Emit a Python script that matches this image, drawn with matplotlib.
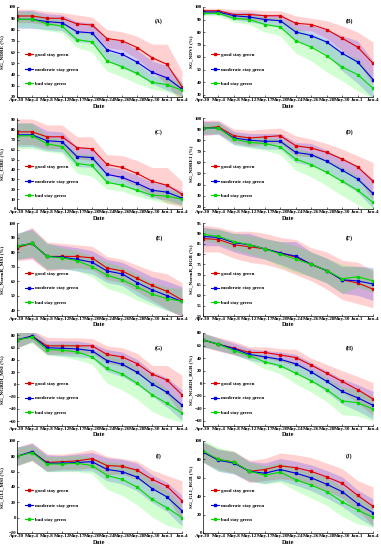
import matplotlib
matplotlib.use("Agg")
import matplotlib.pyplot as plt
import numpy as np

dates = ["Apr.30", "May.4", "May.8", "May.12", "May.17", "May.20", "May.24",
         "May.26", "May.28", "May.30", "Jun.1", "Jun.4"]
groups = ["good stay green", "moderate stay green", "bad stay green"]
panel_letters = ["(A)", "(B)", "(C)", "(D)", "(E)", "(F)", "(G)", "(H)", "(I)", "(J)"]
ylabels = ["SG_NDRE (%)", "SG_NDVI (%)", "SG_CIRE (%)", "SG_NDRE1 (%)",
           "SG_NormR_MSI (%)", "SG_NormR_RGB (%)", "SG_NGRDI_MSI (%)",
           "SG_NGRDI_RGB (%)", "SG_GLI_MSI (%)", "SG_GLI_RGB (%)"]

# mean values (good, moderate, bad) per panel
A_good = [92, 92, 90, 90, 85, 84, 72, 70, 64, 55, 49, 29]
A_mod = [89, 89, 87, 86, 78, 77, 62, 58, 51, 42, 37, 27]
A_bad = [89, 89, 85, 83, 71, 69, 52, 47, 41, 33, 31, 26]
A_good_sd = [6, 6, 6, 5, 8, 7, 8, 8, 10, 12, 18, 14]
A_mod_sd = [8, 8, 7, 7, 9, 9, 10, 12, 11, 10, 11, 6]
A_bad_sd = [7, 7, 6, 6, 7, 9, 9, 9, 9, 6, 6, 7]

B_good = [97, 97, 94, 94, 93, 93, 87, 86, 82, 75, 68, 55]
B_mod = [96, 96, 93, 92, 90, 89, 80, 77, 72, 63, 56, 42]
B_bad = [95, 95, 91, 90, 86, 84, 73, 68, 61, 52, 46, 35]
B_good_sd = [2, 2, 4, 4, 4, 4, 6, 5, 7, 10, 12, 17]
B_mod_sd = [2, 2, 3, 4, 4, 5, 7, 8, 10, 14, 17, 15]
B_bad_sd = [2, 2, 3, 4, 6, 7, 10, 11, 13, 11, 13, 8]

C_good = [78, 78, 73, 73, 62, 61, 45, 42, 36, 28, 24, 15]
C_mod = [75, 75, 69, 68, 53, 52, 35, 32, 26, 19, 17, 11]
C_bad = [74, 74, 66, 63, 46, 44, 27, 24, 19, 14, 13, 10]
C_good_sd = [13, 13, 12, 12, 11, 12, 10, 12, 13, 14, 18, 13]
C_mod_sd = [12, 12, 10, 10, 10, 10, 8, 8, 8, 8, 8, 7]
C_bad_sd = [13, 13, 8, 7, 10, 11, 7, 6, 6, 5, 7, 6]

D_good = [91, 92, 84, 82, 83, 84, 75, 73, 69, 63, 56, 43]
D_mod = [91, 91, 82, 80, 79, 79, 69, 67, 61, 53, 45, 32]
D_bad = [91, 91, 81, 78, 77, 74, 63, 58, 51, 43, 35, 24]
D_good_sd = [7, 6, 6, 7, 7, 7, 9, 8, 8, 9, 10, 17]
D_mod_sd = [6, 6, 6, 6, 7, 7, 9, 10, 10, 11, 12, 13]
D_bad_sd = [5, 5, 5, 5, 6, 7, 10, 11, 12, 13, 13, 9]

E_good = [83, 86, 77, 77, 77, 76, 69, 67, 62, 57, 53, 47]
E_mod = [84, 86, 77, 76.5, 75, 73, 67, 65, 59, 54, 50, 46]
E_bad = [84, 86, 77, 76, 74, 70, 64, 61, 56, 51, 48, 46]
E_good_sd = [9, 11, 10, 9, 8, 8, 8, 8, 9, 10, 12, 12]
E_mod_sd = [9, 10, 9, 8, 8, 8, 8, 8, 9, 9, 10, 10]
E_bad_sd = [9, 9, 9, 7, 7, 7, 9, 9, 9, 8, 8, 9]

F_good = [87.5, 87, 84.5, 83.5, 82.5, 80.5, 78.5, 75, 72, 67.5, 66, 63]
F_mod = [88.5, 88, 85.5, 84.5, 82.5, 80.5, 79, 75, 72, 67.5, 67, 65.5]
F_bad = [89.5, 88.5, 86, 84.5, 82.5, 80, 77.5, 75, 72, 68, 69, 67]
F_good_sd = [6.5, 6, 6.5, 7.5, 7.5, 7.5, 8.5, 8, 9, 9.5, 10, 9]
F_mod_sd = [4.5, 4, 4.5, 5.5, 5, 5.5, 7, 6, 6, 6.5, 7, 8]
F_bad_sd = [3, 3.5, 4, 4.5, 5, 6, 6.5, 6, 6, 7, 5, 5.5]

G_good = [72, 79, 63, 63, 63, 63, 49, 45, 34, 17, 7, -17]
G_mod = [73, 79, 60, 59, 58, 55, 39, 33, 20, 1, -13, -34]
G_bad = [73, 77, 57, 56, 53, 45, 26, 17, 2, -17, -31, -47]
G_good_sd = [13, 9, 14, 13, 13, 12, 14, 15, 17, 14, 24, 32]
G_mod_sd = [13, 9, 11, 12, 13, 12, 18, 20, 21, 20, 24, 25]
G_bad_sd = [13, 9, 9, 11, 13, 12, 24, 26, 26, 27, 24, 15]

H_good = [69, 62, 56, 49, 49, 45, 41, 29, 16, 3, -10, -25]
H_mod = [69, 62, 55, 46, 42, 38, 31, 18, 3, -13, -23, -35]
H_bad = [69, 62, 52, 44, 34, 28, 16, 4, -10, -28, -31, -41]
H_good_sd = [11, 11, 11, 9, 9, 10, 13, 11, 14, 17, 21, 26]
H_mod_sd = [11, 10, 9, 9, 10, 12, 15, 15, 17, 20, 21, 22]
H_bad_sd = [11, 9, 6, 8, 11, 13, 17, 18, 19, 22, 21, 19]

I_good = [80, 86, 72, 73, 74, 77, 68, 67, 62, 50, 41, 22]
I_mod = [80, 86, 71, 71, 72, 73, 63, 60, 53, 38, 27, 9]
I_bad = [80, 85, 70, 70, 71, 68, 55, 50, 40, 24, 13, 0]
I_good_sd = [12, 12, 11, 10, 11, 12, 12, 10, 12, 12, 14, 26]
I_mod_sd = [12, 11, 11, 10, 11, 12, 15, 16, 18, 18, 19, 20]
I_bad_sd = [12, 10, 10, 10, 11, 11, 18, 21, 23, 23, 23, 15]

J_good = [88, 80, 77, 67, 69, 73, 71, 67, 61, 54, 41, 29]
J_mod = [88, 79, 76, 67, 65, 69, 65, 60, 53, 45, 32, 22]
J_bad = [89, 80, 77, 67, 63, 66, 58, 52, 45, 34, 25, 17]
J_good_sd = [11, 11, 12, 12, 12, 14, 14, 15, 15, 16, 16, 21]
J_mod_sd = [11, 12, 12, 11, 11, 12, 13, 14, 15, 16, 15, 15]
J_bad_sd = [12, 13, 12, 10, 10, 11, 12, 14, 15, 16, 15, 11]

panels = [
    (A_good, A_mod, A_bad, A_good_sd, A_mod_sd, A_bad_sd),
    (B_good, B_mod, B_bad, B_good_sd, B_mod_sd, B_bad_sd),
    (C_good, C_mod, C_bad, C_good_sd, C_mod_sd, C_bad_sd),
    (D_good, D_mod, D_bad, D_good_sd, D_mod_sd, D_bad_sd),
    (E_good, E_mod, E_bad, E_good_sd, E_mod_sd, E_bad_sd),
    (F_good, F_mod, F_bad, F_good_sd, F_mod_sd, F_bad_sd),
    (G_good, G_mod, G_bad, G_good_sd, G_mod_sd, G_bad_sd),
    (H_good, H_mod, H_bad, H_good_sd, H_mod_sd, H_bad_sd),
    (I_good, I_mod, I_bad, I_good_sd, I_mod_sd, I_bad_sd),
    (J_good, J_mod, J_bad, J_good_sd, J_mod_sd, J_bad_sd),
]

ylims = [(20, 100), (28, 100), (0, 92), (18, 100), (36, 100),
         (50, 95), (-68, 84), (-68, 80), (-20, 100), (0, 100)]
yticks = [np.arange(20, 101, 10), np.arange(30, 101, 10), np.arange(0, 91, 10),
          np.arange(20, 101, 10), np.arange(40, 101, 10), np.arange(50, 96, 5),
          np.arange(-60, 81, 20), np.arange(-60, 81, 20), np.arange(-20, 101, 20),
          np.arange(0, 101, 20)]

line_colors = ["#e00000", "#0000e0", "#00d800"]
fill_colors = ["#ff0000", "#0000ff", "#00ff00"]

W, H = 381, 550
fig = plt.figure(figsize=(W / 100, H / 100), dpi=100)
plt.rcParams['font.family'] = ['Liberation Serif', 'DejaVu Serif']

row_tb = [(7, 97), (118, 209), (223, 316), (333, 426), (441, 533)]
col_lr = [(17, 182), (203, 373)]
label_x = [4.5, 193.5]

x = np.arange(len(dates))
for i, p in enumerate(panels):
    r, c = divmod(i, 2)
    top, bot = row_tb[r]
    left, right = col_lr[c]
    ax = fig.add_axes([left / W, 1 - bot / H, (right - left) / W, (bot - top) / H])
    means = p[:3]
    sds = p[3:]
    for k in range(3):
        m = np.array(means[k], dtype=float)
        s = np.array(sds[k], dtype=float)
        ax.fill_between(x, m - s, m + s, color=fill_colors[k], alpha=0.18, lw=0)
    for k in range(3):
        ax.plot(x, means[k], color=line_colors[k], lw=0.8, marker='s', ms=2.0,
                mec=line_colors[k], mfc=line_colors[k], label=groups[k])
    ax.set_xlim(0, len(dates) - 1)
    ax.set_ylim(*ylims[i])
    ax.set_yticks(yticks[i])
    ax.set_xticks(x)
    ax.set_xticklabels(dates, fontsize=3.8, fontweight='bold')
    for t in ax.get_yticklabels():
        t.set_fontsize(3.5)
        t.set_fontweight('bold')
    ax.tick_params(direction='in', length=1.5, width=0.4, pad=0.8)
    for sp in ['top', 'right']:
        ax.spines[sp].set_visible(False)
    for sp in ['left', 'bottom']:
        ax.spines[sp].set_linewidth(0.5)
    ax.set_xlabel("Date", fontsize=4.4, fontweight='bold', labelpad=1)
    ax.set_ylabel(ylabels[i], fontsize=3.7, fontweight='bold')
    ax.yaxis.set_label_coords((label_x[c] - left) / (right - left), 0.5)
    ax.text(0.86, 0.84, panel_letters[i], transform=ax.transAxes,
            fontsize=4.0, fontweight='bold', ha='center', va='center')
    ax.legend(loc='lower left', bbox_to_anchor=(0.02, 0.07), frameon=False,
              labelspacing=2.0, handlelength=1.6,
              handletextpad=0.5, prop={'weight': 'bold', 'size': 3.6})

fig.savefig("out.png", dpi=100)
